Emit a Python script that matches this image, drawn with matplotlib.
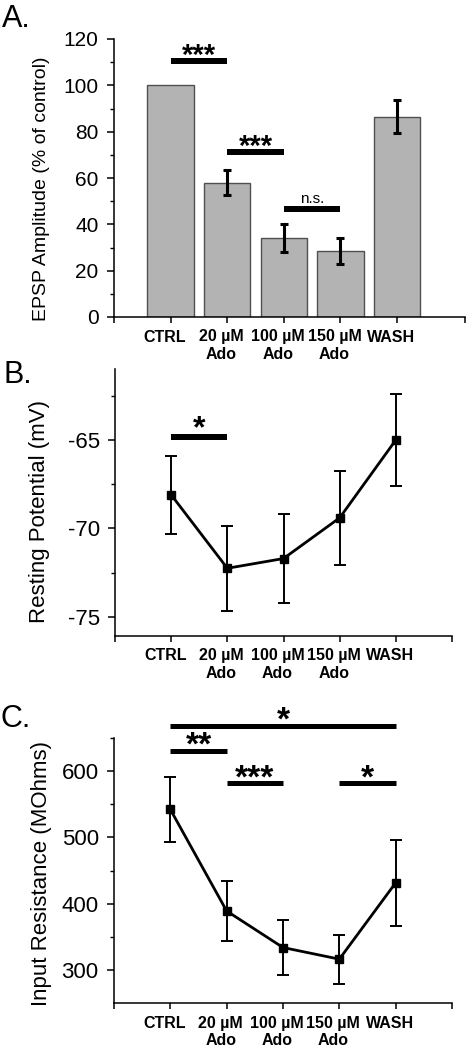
import matplotlib
matplotlib.use("Agg")
import matplotlib.pyplot as plt
from matplotlib.ticker import MultipleLocator, FixedLocator
from matplotlib.transforms import ScaledTranslation
from matplotlib.textpath import TextPath
from matplotlib.font_manager import FontProperties

plt.rcParams['font.family'] = ['Liberation Sans', 'DejaVu Sans']
plt.rcParams['axes.unicode_minus'] = False

categories = ['CTRL', '20 µM\nAdo', '100 µM\nAdo', '150 µM\nAdo', 'WASH']
xpos = [1, 2, 3, 4, 5]

epsp_mean = [100, 58, 34, 28.5, 86.5]
epsp_err = [0, 5.5, 6, 5.5, 7]

rmp_mean = [-68.1, -72.25, -71.7, -69.4, -65.0]
rmp_err = [2.2, 2.4, 2.5, 2.65, 2.6]

rin_mean = [542, 389, 334, 316.5, 431.5]
rin_err = [49, 44.5, 41, 37, 64.5]

# significance: (from index, to index, level, label)
sig_a = [(0, 1, 110.5, '***'), (1, 2, 71.2, '***'), (2, 3, 46.6, 'n.s.')]
sig_b = [(0, 1, -64.85, '*')]
sig_c = [(0, 4, 668, '*'), (0, 1, 630, '**'), (1, 2, 581.4, '***'), (3, 4, 581.4, '*')]

W, H = 466, 1048
fig = plt.figure(figsize=(W / 100, H / 100), dpi=100)
PX = 72 / 100  # points per pixel


def px_axes(l, t, r, b):
    return fig.add_axes([l / W, 1 - b / H, (r - l) / W, (b - t) / H])


axA = px_axes(114, 39, 465, 317)
axB = px_axes(115, 369, 452, 635.7)
axC = px_axes(114, 737.7, 452, 1003.3)


def style(ax, xmax, tick_fs):
    for s in ['top', 'right']:
        ax.spines[s].set_visible(False)
    for s in ['left', 'bottom']:
        ax.spines[s].set_linewidth(1.1)
    ax.set_xlim(0, xmax)
    ax.xaxis.set_major_locator(FixedLocator([0] + xpos + [xmax]))
    ax.set_xticklabels([''] + categories + [''], fontsize=11.5, fontweight='bold',
                       linespacing=1.22)
    ax.tick_params(axis='x', direction='out', length=4, width=1.1, pad=5)
    ax.tick_params(axis='y', which='major', direction='out', length=5, width=1.1,
                   pad=6, labelsize=tick_fs)
    ax.tick_params(axis='y', which='minor', direction='out', length=3, width=1.0)
    off = ScaledTranslation(-6 / 100, 0, fig.dpi_scale_trans)
    for lab in ax.get_xticklabels():
        lab.set_transform(lab.get_transform() + off)


star_prop = FontProperties(family='Liberation Sans', weight='bold')


def sig(ax, items, fs, lw_px, gap_px):
    lw = lw_px * PX
    for i0, i1, y, lab in items:
        ax.plot([xpos[i0], xpos[i1]], [y, y], color='black', lw=lw,
                solid_capstyle='butt', clip_on=False)
        xm = (xpos[i0] + xpos[i1]) / 2
        if lab == 'n.s.':
            ax.annotate(lab, xy=(xm, y), xytext=(0, lw / 2 + 3.5 * PX),
                        textcoords='offset points', ha='center', va='baseline',
                        fontsize=11, annotation_clip=False)
        else:
            ext = TextPath((0, 0), '*', size=fs, prop=star_prop).get_extents()
            dy = lw / 2 + gap_px * PX - ext.y0
            ax.annotate(lab, xy=(xm, y), xytext=(0, dy),
                        textcoords='offset points', ha='center', va='baseline',
                        fontsize=fs, fontweight='bold', annotation_clip=False)


# Panel A
style(axA, 6.2, 15)
axA.bar(xpos, epsp_mean, width=0.82, color='#b3b3b3', edgecolor='#505050', linewidth=1.0,
        zorder=2)
err_idx = [i for i in range(5) if epsp_err[i] > 0]
axA.errorbar([xpos[i] for i in err_idx], [epsp_mean[i] for i in err_idx],
             yerr=[epsp_err[i] for i in err_idx], fmt='none', ecolor='black',
             elinewidth=2.2, capsize=3, capthick=2.2, zorder=3)
axA.set_ylim(0, 120)
axA.yaxis.set_major_locator(MultipleLocator(20))
axA.yaxis.set_minor_locator(MultipleLocator(10))
axA.set_ylabel('EPSP Amplitude (% of control)', fontsize=14)
axA.yaxis.set_label_coords(-0.182, 0.462)
sig(axA, sig_a, 21, 6, 3.5)

# Panel B
style(axB, 6, 16)
axB.errorbar(xpos, rmp_mean, yerr=rmp_err, fmt='-s', color='black', lw=2.0,
             ms=6, elinewidth=1.4, capsize=4.3, capthick=1.4, clip_on=False)
axB.set_ylim(-76.06, -60.99)
axB.yaxis.set_major_locator(FixedLocator([-75, -70, -65]))
axB.yaxis.set_minor_locator(FixedLocator([-72.5, -67.5, -62.5]))
axB.set_ylabel('Resting Potential (mV)', fontsize=16)
axB.yaxis.set_label_coords(-0.193, 0.466)
sig(axB, sig_b, 23, 6, 7)

# Panel C
style(axC, 6, 16)
axC.errorbar(xpos, rin_mean, yerr=rin_err, fmt='-s', color='black', lw=2.0,
             ms=6, elinewidth=1.4, capsize=4.3, capthick=1.4, clip_on=False)
axC.set_ylim(250, 650)
axC.yaxis.set_major_locator(MultipleLocator(100))
axC.yaxis.set_minor_locator(FixedLocator([350, 450, 550, 650]))
axC.set_ylabel('Input Resistance (MOhms)', fontsize=16)
axC.yaxis.set_label_coords(-0.183, 0.487)
sig(axC, sig_c, 24, 5, 4)

# panel letters
fig.text(2 / W, 1 - 27 / H, 'A.', fontsize=22, ha='left', va='baseline')
fig.text(3 / W, 1 - 383 / H, 'B.', fontsize=22, ha='left', va='baseline')
fig.text(0 / W, 1 - 727 / H, 'C.', fontsize=22, ha='left', va='baseline')

fig.savefig('out.png', dpi=100)
